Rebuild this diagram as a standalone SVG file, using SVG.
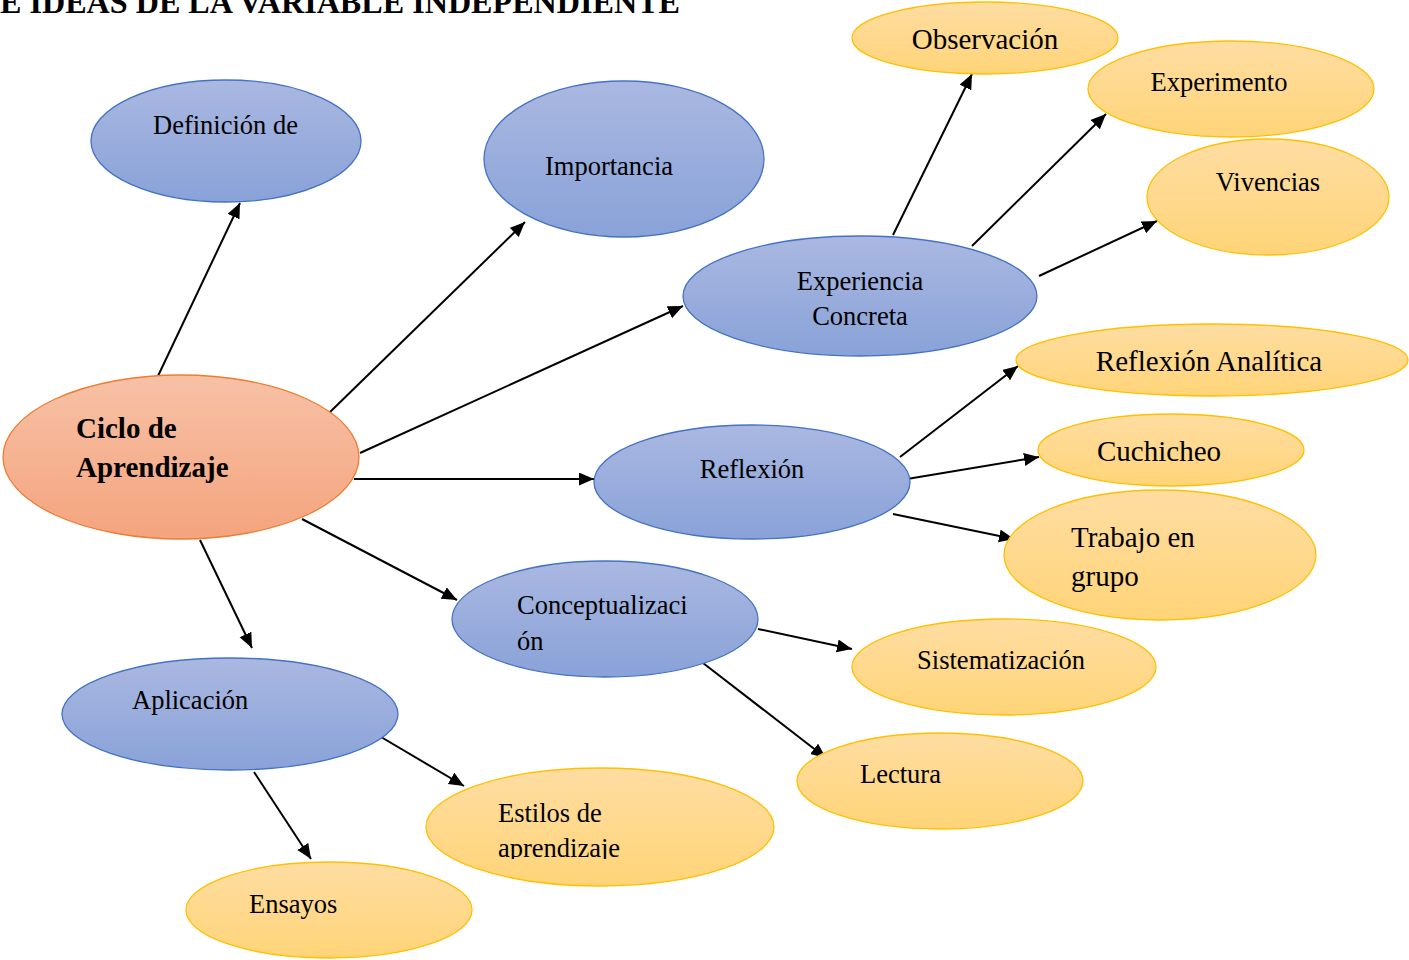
<svg xmlns="http://www.w3.org/2000/svg" width="1409" height="960" viewBox="0 0 1409 960">
  <defs>
    <linearGradient id="gBlue" x1="0" y1="0" x2="0" y2="1">
      <stop offset="0" stop-color="#aab8e1"/>
      <stop offset="1" stop-color="#89a2d8"/>
    </linearGradient>
    <linearGradient id="gOrange" x1="0" y1="0" x2="0" y2="1">
      <stop offset="0" stop-color="#f7c1a6"/>
      <stop offset="1" stop-color="#f4a47e"/>
    </linearGradient>
    <linearGradient id="gYellow" x1="0" y1="0" x2="0" y2="1">
      <stop offset="0" stop-color="#fedda2"/>
      <stop offset="1" stop-color="#ffd478"/>
    </linearGradient>
    <marker id="arrow" markerUnits="userSpaceOnUse" markerWidth="16" markerHeight="14" refX="15" refY="6.5" orient="auto">
      <path d="M0,0 L15,6.5 L0,13 Z" fill="#000"/>
    </marker>
    <clipPath id="clipEstilos">
      <rect x="420" y="760" width="360" height="99"/>
    </clipPath>
  </defs>
  <style>
    .blue { fill: url(#gBlue); stroke: #4472c4; stroke-width: 1.3; }
    .orange { fill: url(#gOrange); stroke: #ed7d31; stroke-width: 1.3; }
    .yellow { fill: url(#gYellow); stroke: #ffc000; stroke-width: 1.3; }
    .t { font-family: "Liberation Serif", "Times New Roman", serif; font-size: 26.5px; fill: #000; }
    .tl { font-family: "Liberation Serif", "Times New Roman", serif; font-size: 29px; fill: #000; }
    .c { text-anchor: middle; }
    .b { font-weight: bold; }
    .title { font-family: "Liberation Serif", "Times New Roman", serif; font-size: 31px; font-weight: bold; fill: #000; }
    #connectors line { stroke: #000; stroke-width: 2; marker-end: url(#arrow); }
  </style>

  <rect x="0" y="0" width="1409" height="960" fill="#fff"/>

  <text class="title" x="0" y="13" textLength="680" lengthAdjust="spacingAndGlyphs">E IDEAS DE LA VARIABLE INDEPENDIENTE</text>

  <!-- connectors -->
  <g id="connectors">
    <line x1="158" y1="376" x2="240" y2="203"/>
    <line x1="329" y1="413" x2="525" y2="222"/>
    <line x1="360" y1="453" x2="683" y2="306"/>
    <line x1="354" y1="479" x2="594" y2="479"/>
    <line x1="302" y1="519" x2="457" y2="600"/>
    <line x1="200" y1="540" x2="252" y2="648"/>
    <line x1="893" y1="235" x2="972" y2="74"/>
    <line x1="972" y1="246" x2="1106" y2="114"/>
    <line x1="1039" y1="276" x2="1157" y2="221"/>
    <line x1="900" y1="457" x2="1018" y2="366"/>
    <line x1="907" y1="479" x2="1039" y2="457"/>
    <line x1="893" y1="514" x2="1014" y2="539"/>
    <line x1="758" y1="629" x2="852" y2="649"/>
    <line x1="703" y1="663" x2="826" y2="758"/>
    <line x1="376" y1="734" x2="464" y2="786"/>
    <line x1="254" y1="772" x2="311" y2="859"/>
  </g>

  <!-- main topic -->
  <g id="ciclo">
    <ellipse class="orange" cx="181" cy="457" rx="178" ry="82"/>
    <text class="tl b" x="76" y="438">Ciclo de</text>
    <text class="tl b" x="76" y="477">Aprendizaje</text>
  </g>

  <!-- first-level nodes -->
  <g id="definicion">
    <ellipse class="blue" cx="226" cy="141" rx="135" ry="61"/>
    <text class="t" x="153" y="134">Definición de</text>
  </g>
  <g id="importancia">
    <ellipse class="blue" cx="624" cy="159" rx="140" ry="78"/>
    <text class="t c" x="609" y="175">Importancia</text>
  </g>
  <g id="experiencia">
    <ellipse class="blue" cx="860" cy="296" rx="177" ry="60"/>
    <text class="t c" x="860" y="290">Experiencia</text>
    <text class="t c" x="860" y="325">Concreta</text>
  </g>
  <g id="reflexion">
    <ellipse class="blue" cx="752" cy="482" rx="158" ry="57"/>
    <text class="t c" x="752" y="478">Reflexión</text>
  </g>
  <g id="conceptualizacion">
    <ellipse class="blue" cx="605" cy="619" rx="153" ry="58"/>
    <text class="t" x="517" y="614">Conceptualizaci</text>
    <text class="t" x="517" y="650">ón</text>
  </g>
  <g id="aplicacion">
    <ellipse class="blue" cx="230" cy="714" rx="168" ry="56"/>
    <text class="t" x="132" y="709">Aplicación</text>
  </g>

  <!-- second-level nodes -->
  <g id="observacion">
    <ellipse class="yellow" cx="985" cy="38" rx="133" ry="36"/>
    <text class="tl c" x="985" y="49">Observación</text>
  </g>
  <g id="experimento">
    <ellipse class="yellow" cx="1231" cy="89" rx="143" ry="48"/>
    <text class="t c" x="1219" y="91">Experimento</text>
  </g>
  <g id="vivencias">
    <ellipse class="yellow" cx="1268" cy="197" rx="121" ry="58"/>
    <text class="t c" x="1268" y="191">Vivencias</text>
  </g>
  <g id="reflexion-analitica">
    <ellipse class="yellow" cx="1212" cy="360" rx="196" ry="36"/>
    <text class="tl c" x="1209" y="371">Reflexión Analítica</text>
  </g>
  <g id="cuchicheo">
    <ellipse class="yellow" cx="1171" cy="450" rx="133" ry="36"/>
    <text class="tl c" x="1159" y="461">Cuchicheo</text>
  </g>
  <g id="trabajo">
    <ellipse class="yellow" cx="1160" cy="555" rx="156" ry="65"/>
    <text class="tl" x="1071" y="547">Trabajo en</text>
    <text class="tl" x="1071" y="586">grupo</text>
  </g>
  <g id="sistematizacion">
    <ellipse class="yellow" cx="1004" cy="667" rx="152" ry="48"/>
    <text class="t c" x="1001" y="669">Sistematización</text>
  </g>
  <g id="lectura">
    <ellipse class="yellow" cx="940" cy="781" rx="143" ry="48"/>
    <text class="t" x="860" y="783">Lectura</text>
  </g>
  <g id="estilos">
    <ellipse class="yellow" cx="600" cy="827" rx="174" ry="59"/>
    <g clip-path="url(#clipEstilos)">
      <text class="t" x="498" y="822">Estilos de</text>
      <text class="t" x="498" y="857">aprendizaje</text>
    </g>
  </g>
  <g id="ensayos">
    <ellipse class="yellow" cx="329" cy="910" rx="143" ry="48"/>
    <text class="t" x="249" y="913">Ensayos</text>
  </g>
</svg>
